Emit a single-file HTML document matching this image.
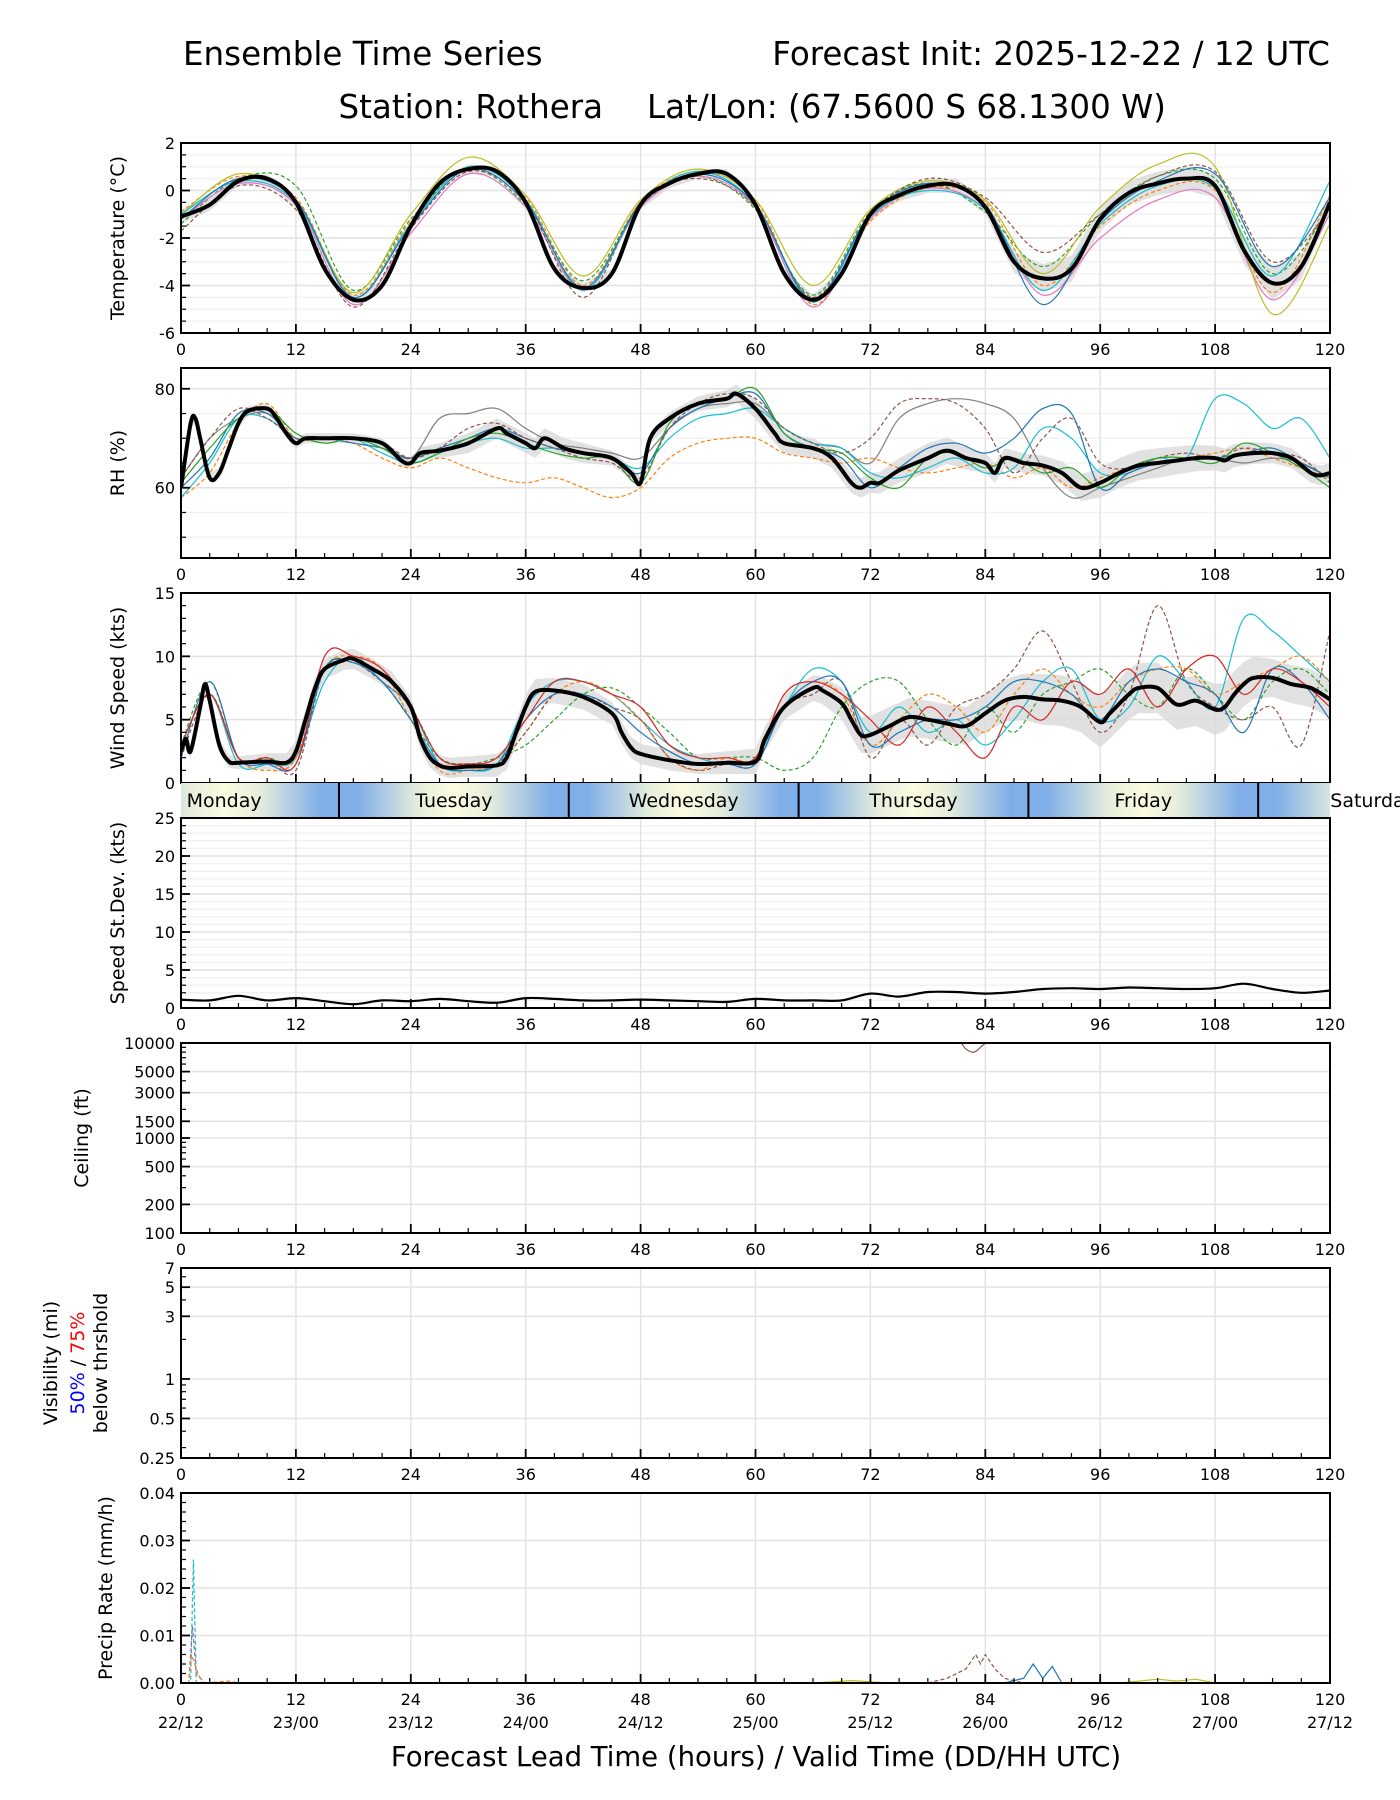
<!DOCTYPE html>
<html><head><meta charset="utf-8">
<style>
html,body{margin:0;padding:0;background:#fff;}
svg{display:block;font-family:"DejaVu Sans","Liberation Sans",sans-serif;}
</style></head>
<body>
<svg id="chart" width="1400" height="1800" viewBox="0 0 1400 1800" xmlns="http://www.w3.org/2000/svg">
<defs>
<linearGradient id="dayGrad" x1="0" x2="1" y1="0" y2="0">
<stop offset="0" stop-color="#80aee8"/><stop offset="0.08" stop-color="#80aee8"/>
<stop offset="0.35" stop-color="#e6eedc"/><stop offset="0.5" stop-color="#fbfbdf"/>
<stop offset="0.65" stop-color="#e6eedc"/><stop offset="0.92" stop-color="#80aee8"/><stop offset="1" stop-color="#80aee8"/>
</linearGradient>
<clipPath id="bandClip"><rect x="181" y="783" width="1219" height="35"/></clipPath>
</defs>
<text x="183" y="65" font-size="32.5">Ensemble Time Series</text>
<text x="1330" y="65" font-size="32.5" text-anchor="end">Forecast Init: 2025-12-22 / 12 UTC</text>
<text x="603" y="118" font-size="32.5" text-anchor="end">Station: Rothera</text>
<text x="647" y="118" font-size="32.5">Lat/Lon: (67.5600 S 68.1300 W)</text>
<text x="756" y="1766" font-size="27.5" text-anchor="middle">Forecast Lead Time (hours) / Valid Time (DD/HH UTC)</text>
<g id="plots"></g>
</svg>
<script>
// ---------- data ----------
const xTicks = [0,12,24,36,48,60,72,84,96,108,120];
const dateLabels = ["22/12","23/00","23/12","24/00","24/12","25/00","25/12","26/00","26/12","27/00","27/12"];
const dayNames = ["Monday","Tuesday","Wednesday","Thursday","Friday","Saturday"];
const dayBoundaries = [16.5,40.5,64.5,88.5,112.5];

// Temperature (every 3h)
const tempMean = [-1.1,-0.6,0.4,0.5,-0.5,-3.3,-4.6,-4.0,-1.5,0.3,0.9,0.8,-0.5,-3.3,-4.1,-3.5,-0.6,0.3,0.7,0.7,-0.6,-3.5,-4.6,-3.5,-1.0,-0.2,0.2,0.2,-0.7,-3.0,-3.7,-3.3,-1.2,-0.1,0.3,0.5,0.2,-2.5,-3.9,-3.2,-0.5];
// Temperature members (every 6h)
const tempA = [-0.9,0.6,-0.3,-4.4,-1.3,1.0,-0.3,-4.0,-0.5,0.8,-0.4,-4.8,-1.3,0.1,-0.5,-4.0,-1.5,0.0,0.0,-4.3,-0.2];
const tempB = [-1.4,0.5,0.2,-4.2,-1.2,0.9,-0.6,-3.8,-0.6,0.6,-0.8,-4.4,-0.9,0.3,-0.9,-3.2,-1.0,0.6,0.5,-3.5,-0.7];
const tempC = [-1.2,0.3,-0.6,-4.8,-1.8,0.7,-0.7,-4.2,-0.7,0.6,-0.7,-4.9,-1.2,0.1,-0.8,-4.4,-2.0,-0.4,-0.3,-4.6,-1.0];
const tempD = [-1.0,0.7,-0.4,-4.3,-1.0,1.4,-0.2,-3.6,-0.4,0.9,-0.4,-4.0,-0.8,0.4,-0.4,-3.5,-0.7,1.1,1.0,-5.2,-1.4];
const tempE = [-1.7,0.2,-0.8,-4.9,-1.6,0.8,-0.5,-4.5,-0.5,0.5,-0.7,-4.5,-1.0,0.5,-0.3,-2.6,-1.0,0.6,0.8,-3.0,-0.8];
const tempF = [-1.0,0.4,-0.5,-4.5,-1.4,1.0,-0.4,-4.2,-0.6,0.8,-0.6,-4.7,-1.1,0.0,-0.8,-4.2,-1.4,0.2,0.1,-3.6,0.4];
const tempG = [-1.2,0.5,-0.4,-4.5,-1.5,0.9,-0.5,-4.1,-0.6,0.7,-0.6,-4.6,-1.0,0.3,-0.6,-4.8,-1.3,0.4,0.7,-3.2,-0.3];
const tempSpread = [0.3,0.2,0.2,0.2,0.2,0.2,0.2,0.2,0.2,0.2,0.2,0.2,0.2,0.3,0.3,0.6,0.5,0.5,0.5,0.7,0.4];

// RH mean (hour, value)
const rhHours = [0,1,1.5,2,3,4,5,6,7,9,10,11,12,13,15,18,21,23,24,25,27,30,33,34,36,37,38,40,42,45,47,48,49,51,54,57,58,60,62,63,66,68,70,71,72,73,75,78,80,82,84,85,86,88,90,92,94,96,98,100,102,104,106,108,109,110,112,114,116,118,119,120];
const rhMean = [60,73,74,70,62,63,68,73,75.5,76,74,71,69,70,70,70,69,65.5,65,67,67.5,69,72,71,69,68,70,68,67,66,63,61,70,74,77,78,79,76,71,69,68,66,61,60,61,61,63.5,66,67.5,66,65,63,66,65,64.5,63,60,61,63,64.5,65,65.5,66,66,65.5,66.5,67,67,66,63,62.5,63];
// RH members (every 3h)
const rhA = [58,63,73,77,70,70,69,66,64,66,64,62,61,62,60,58,60,66,69,70,70,67,66,65,66,64,63,64,65,62,64,60,62,64,65,66,67,68,66,64,62];
const rhB = [62,70,74,75,70,70,70,69,66,74,75,76,72,69,68,67,66,72,76,77,77,72,69,68,65,74,77,78,77,74,64,58,60,62,64,66,66,65,66,65,62];
const rhC = [58,65,74,74,70,70,70,67,65,67,69,70,68,68,67,66,64,70,74,75,76,72,69,68,63,62,64,66,63,64,72,70,63,63,66,66,78,77,72,74,66];
const rhD = [60,66,75,75,70,70,69,68,66,68,70,72,70,68,67,66,63,72,76,78,79,71,68,66,60,64,68,69,67,70,76,75,60,63,65,66,66,67,68,65,62];
const rhE = [62,70,76,74,70,70,70,69,66,68,72,73,70,68,66,65,62,72,77,79,78,72,69,67,70,77,78,77,72,63,70,74,65,64,66,67,66,68,67,66,61];
const rhF = [61,68,74,76,71,69,70,68,65,67,70,71,69,67,66,66,61,73,77,78,80,71,68,67,62,60,66,67,64,66,63,64,60,64,66,66,65,69,67,64,60];
const rhSpread = [1,1,1,1,1,2,2,2,1,1.5,2,2,2,3,2,2,3,3,2.5,2,2];

// Wind speed mean (hour, value)
const windHours = [0,0.5,1,2,2.5,3,4,5,6,9,11,12,13,14,15,17,18,20,22,24,25,26,27,28,30,33,34,35,36,37,39,42,45,46,47,48,51,54,57,60,61,63,66,67,69,70,71,72,74,76,78,80,82,84,86,88,90,92,94,96,97,99,100,102,104,106,108,109,110,111,112,114,116,118,120];
const windMean = [2.5,3.5,2.5,6,7.8,6.5,3,1.7,1.6,1.7,1.6,2.5,5,7.5,9,9.7,9.8,9,8,6,3.5,2,1.4,1.2,1.3,1.4,2,4,6,7.2,7.3,6.8,5.5,4,2.8,2.3,1.8,1.5,1.6,1.7,3.5,6,7.5,7.3,6.3,5,3.8,3.8,4.5,5.2,5,4.7,4.5,5.5,6.5,6.8,6.6,6.5,6,4.8,5.5,7,7.5,7.5,6.2,6.5,5.8,6,7,7.8,8.3,8.3,7.8,7.5,6.6];
// Wind members (every 3h)
const windA = [3,8,2,2,2,9,9.5,8,5,2,1.5,2,3,5,7,7.5,6,4,2,2,2,1,2,6,8,8,5,3,6,4,7,8,9,7,6,9,7,5,8,9,7];
const windB = [3,7,1.5,1.5,2,8,10,8,6,1.5,1,1.5,6,8,8,7,5,3,2,1.5,2,6,9,8,4,6,4,5,3,5,8,9,5,6,10,8,6,13,12,10,8];
const windC = [3,7,2,1,2,9,10,9,5,1,1,1.5,4,7,8,7,5,2,1,2,2,7,8,7,3,5,7,6,4,7,9,7,6,8,9,9,7,8,9,10,8];
const windD = [2,7,2,2,1,9,9.5,8,6,2,1.5,1.5,4,7,7,6,5,2,1,1.5,1.5,6,7,8,2,5,3,6,7,9,12,8,4,7,14,8,6,5,6,3,12];
const windE = [2,8,2,1.5,1.5,9,9.5,8,5,1.5,1,1.5,5,7,7,6,4,2.5,1.5,1.5,1.5,6,8,8,3,4,5,5,6,8,8,7,5,8,9,8,7,4,9,8,5];
const windF = [3,7,2,2,1.5,10,10,9,6,2,1.5,2,5,8,8,7,6,3,2,2,2,7,8,7,5,3,6,4,2,6,5,8,7,9,6,9,10,7,9,8,6];
const windSpread = [0.5,0.5,0.8,0.8,0.8,0.8,1,1,0.8,0.8,1,1,1.5,1.5,1.5,2,2,2,2,1.5,1.5];

// Speed std dev (every 3h)
const sdValues = [1.1,1,1.6,1,1.3,0.9,0.5,1,0.9,1.2,0.9,0.7,1.3,1.2,1,1,1.1,1,0.9,0.8,1.2,1,1,1,1.9,1.5,2.1,2.1,1.9,2.1,2.5,2.6,2.5,2.7,2.6,2.5,2.6,3.2,2.5,2,2.3];

// Ceiling member (hour, ft)
const ceilHours = [81.5,82,82.8,83.5,84];
const ceilValues = [10000,8600,8000,9000,10000];

// Precip members (hour, mm/h)
const prA_h = [0,1,1.3,1.6,2,6]; const prA = [0,0,0.026,0,0,0];
const prB_h = [0,0.8,1.2,1.6,2.5,6]; const prB = [0,0,0.012,0.002,0,0];
const prC_h = [0,0.8,1.1,1.6,2.2,5,6]; const prC = [0,0,0.006,0.003,0,0.0004,0];
const prD_h = [78,80,82,83,83.5,84,85,86,88]; const prD = [0,0.001,0.003,0.006,0.004,0.006,0.003,0.001,0];
const prE_h = [86,88,89,90,91,92,94]; const prE = [0,0.001,0.004,0.001,0.0035,0,0];
const prF_h = [66,70,74,98,102,104,106,108]; const prF = [0,0.0005,0,0,0.0008,0.0004,0.0008,0];

// ---------- drawing ----------
const NS = "http://www.w3.org/2000/svg";
const plots = document.getElementById("plots");
const L = 181, R = 1330, PH = 190;
const tops = [143,368,593,818,1043,1268,1493];
const xScale = h => L + (h/120)*(R-L);
function mk(tag, attrs, parent){
  const e = document.createElementNS(NS, tag);
  for (const k in attrs) e.setAttribute(k, attrs[k]);
  (parent||plots).appendChild(e);
  return e;
}
function smoothPath(pts){
  if (!pts.length) return "";
  let d = "M" + pts[0][0].toFixed(1) + "," + pts[0][1].toFixed(1);
  for (let i=0;i<pts.length-1;i++){
    const p0 = pts[Math.max(0,i-1)], p1 = pts[i], p2 = pts[i+1], p3 = pts[Math.min(pts.length-1,i+2)];
    const c1x = p1[0]+(p2[0]-p0[0])/6, c1y = p1[1]+(p2[1]-p0[1])/6;
    const c2x = p2[0]-(p3[0]-p1[0])/6, c2y = p2[1]-(p3[1]-p1[1])/6;
    d += "C"+c1x.toFixed(1)+","+c1y.toFixed(1)+" "+c2x.toFixed(1)+","+c2y.toFixed(1)+" "+p2[0].toFixed(1)+","+p2[1].toFixed(1);
  }
  return d;
}
function stepHours(n, step){ const a=[]; for(let i=0;i<n;i++) a.push(i*step); return a; }

function makePanel(idx, cfg){
  const top = tops[idx], bot = top + PH;
  const yScale = v => {
    const f = cfg.log ? (Math.log10(v)-Math.log10(cfg.min))/(Math.log10(cfg.max)-Math.log10(cfg.min)) : (v-cfg.min)/(cfg.max-cfg.min);
    return bot - f*PH;
  };
  const g = mk("g", {});
  
  
  const cp = mk("clipPath", {id:"clip"+idx}, g);
  mk("rect", {x:L, y:top, width:R-L, height:PH}, cp);
  (cfg.minorGrid||[]).forEach(v=>{
    const ln = mk("line",{x1:L,x2:R,y1:yScale(v),y2:yScale(v),stroke:"#f2f2f2","stroke-width":1.5},g);
    
    
  });
  xTicks.forEach(h=>{
    const ln = mk("line",{x1:xScale(h),x2:xScale(h),y1:top,y2:bot,stroke:"#e3e3e3","stroke-width":1.5},g);
    
    
  });
  cfg.ticks.forEach(v=>{
    const ln = mk("line",{x1:L,x2:R,y1:yScale(v),y2:yScale(v),stroke:"#e3e3e3","stroke-width":1.5},g);
    
    
  });
  const content = mk("g",{"clip-path":"url(#clip"+idx+")"},g);
  
  
  for (let h=0; h<=120; h+=3){
    const major = h%12===0;
    const ln = mk("line",{x1:xScale(h),x2:xScale(h),y1:bot,y2:bot-(major?9:5),stroke:"#000","stroke-width":major?1.8:1.2},g);
    
    
  }
  if (!cfg.noXLabels) xTicks.forEach((h,i)=>{
    const t = mk("text",{x:xScale(h),y:bot+22,"font-size":16,"text-anchor":"middle"},g);
    t.textContent = h;
    
    
    if (cfg.dates){
      const d = mk("text",{x:xScale(h),y:bot+45,"font-size":16,"text-anchor":"middle"},g);
      d.textContent = dateLabels[i];
      
      
    }
  });
  (cfg.minorTicks||[]).forEach(v=>{
    const ln = mk("line",{x1:L,x2:L+5,y1:yScale(v),y2:yScale(v),stroke:"#000","stroke-width":1.2},g);
    
    
  });
  cfg.ticks.forEach((v,i)=>{
    const ln = mk("line",{x1:L,x2:L+9,y1:yScale(v),y2:yScale(v),stroke:"#000","stroke-width":1.8},g);
    
    
    const t = mk("text",{x:L-6,y:yScale(v)+6,"font-size":16,"text-anchor":"end"},g);
    t.textContent = cfg.tickLabels ? cfg.tickLabels[i] : v;
    
    
  });
  const fr = mk("rect",{x:L,y:top,width:R-L,height:PH,fill:"none",stroke:"#000","stroke-width":2},g);
  
  
  if (cfg.label){
    const cy = top + PH/2;
    const t = mk("text",{x:0,y:0,"font-size":19,"text-anchor":"middle",transform:"translate("+cfg.labelX+","+cy+") rotate(-90)"},g);
    t.textContent = cfg.label;
    
    
  }
  return {content, yScale};
}
function line(p, hours, vals, color, opts, name){
  const pts = vals.map((v,i)=>[xScale(hours[i]), p.yScale(v)]);
  const a = {d: opts.straight ? "M"+pts.map(q=>q[0].toFixed(1)+","+q[1].toFixed(1)).join("L") : smoothPath(pts), fill:"none", stroke:color, "stroke-width":opts.w||1.2};
  if (opts.dash) a["stroke-dasharray"] = "4,2.5";
  const e = mk("path", a, p.content);
  
  
}
function band(p, hours, mean, spreadHours, spread, name){
  const sAt = h => { for(let i=0;i<spreadHours.length-1;i++){ if(h<=spreadHours[i+1]){ const f=(h-spreadHours[i])/(spreadHours[i+1]-spreadHours[i]); return spread[i]+f*(spread[i+1]-spread[i]); } } return spread[spread.length-1]; };
  const up = hours.map((h,i)=>[xScale(h), p.yScale(mean[i]+sAt(h))]);
  const lo = hours.map((h,i)=>[xScale(h), p.yScale(mean[i]-sAt(h))]).reverse();
  const d = "M"+up.concat(lo).map(q=>q[0].toFixed(1)+","+q[1].toFixed(1)).join("L")+"Z";
  const e = mk("path",{d, fill:"#d9d9d9", opacity:0.8}, p.content);
  
  
}
const range = (a,b,s)=>{const r=[];for(let v=a;v<=b+1e-9;v+=s)r.push(+v.toFixed(3));return r;};

// Panel 1: Temperature
const p1 = makePanel(0,{name:"temperature",min:-6,max:2,ticks:[-6,-4,-2,0,2],minorTicks:range(-6,2,0.5),minorGrid:range(-6,2,0.5),label:"Temperature (°C)",labelX:124});
const h6 = stepHours(21,6), h3 = stepHours(41,3);
band(p1, h3, tempMean, h6, tempSpread, "temperature-spread-band");
line(p1,h6,tempA,"#ff7f0e",{dash:1},"temperature-member-a");
line(p1,h6,tempB,"#2ca02c",{dash:1},"temperature-member-b");
line(p1,h6,tempC,"#e377c2",{},"temperature-member-c");
line(p1,h6,tempD,"#bcbd22",{},"temperature-member-d");
line(p1,h6,tempE,"#8c564b",{dash:1},"temperature-member-e");
line(p1,h6,tempF,"#17becf",{},"temperature-member-f");
line(p1,h6,tempG,"#1f77b4",{},"temperature-member-g");
line(p1,h3,tempMean,"#000",{w:4},"temperature-mean");

// Panel 2: RH
const p2 = makePanel(1,{name:"rh",min:45.8,max:84.2,ticks:[60,80],minorTicks:range(50,80,5),minorGrid:[50,55,65,70,75],label:"RH (%)",labelX:124});
band(p2, rhHours, rhMean, h6, rhSpread, "rh-spread-band");
line(p2,h3,rhA,"#ff7f0e",{dash:1},"rh-member-a");
line(p2,h3,rhB,"#7f7f7f",{},"rh-member-b");
line(p2,h3,rhC,"#17becf",{},"rh-member-c");
line(p2,h3,rhD,"#1f77b4",{},"rh-member-d");
line(p2,h3,rhE,"#8c564b",{dash:1},"rh-member-e");
line(p2,h3,rhF,"#2ca02c",{},"rh-member-f");
line(p2,rhHours,rhMean,"#000",{w:4},"rh-mean");

// Panel 3: Wind
const p3 = makePanel(2,{name:"wind",min:0,max:15,ticks:[0,5,10,15],minorTicks:range(0,15,1),label:"Wind Speed (kts)",labelX:124,noXLabels:true});
band(p3, windHours, windMean, h6, windSpread, "wind-spread-band");
line(p3,h3,windA,"#2ca02c",{dash:1},"wind-member-a");
line(p3,h3,windB,"#17becf",{},"wind-member-b");
line(p3,h3,windC,"#ff7f0e",{dash:1},"wind-member-c");
line(p3,h3,windD,"#8c564b",{dash:1},"wind-member-d");
line(p3,h3,windE,"#1f77b4",{},"wind-member-e");
line(p3,h3,windF,"#d62728",{},"wind-member-f");
line(p3,windHours,windMean,"#000",{w:4},"wind-mean");

// Day band
const dayG = mk("g",{"clip-path":"url(#bandClip)"});


const starts = [-7.5].concat(dayBoundaries);
starts.forEach((s,i)=>{
  const x0 = xScale(s), x1 = xScale(s+24);
  const r = mk("rect",{x:x0,y:783,width:x1-x0,height:35,fill:"url(#dayGrad)"},dayG);
  
  
  const t = mk("text",{x:xScale(s+12),y:807,"font-size":19,"text-anchor":"middle"},dayG);
  t.textContent = dayNames[i];
  
  
});
mk("rect",{x:1330,y:783,width:70,height:35,fill:"#fff"},dayG);
const satT = mk("text",{x:xScale(124.5),y:807,"font-size":19,"text-anchor":"middle"},dayG);
satT.textContent = "Saturday";


dayBoundaries.forEach(b=>{
  const ln = mk("line",{x1:xScale(b),x2:xScale(b),y1:783,y2:818,stroke:"#000","stroke-width":2},dayG);
  
  
});

// Panel 4: Std dev
const p4 = makePanel(3,{name:"speed-stdev",min:0,max:25,ticks:[0,5,10,15,20,25],minorTicks:range(0,25,1),minorGrid:range(0,25,1),label:"Speed St.Dev. (kts)",labelX:124});
line(p4,h3,sdValues,"#000",{w:2.2},"speed-stdev-line");

// Panel 5: Ceiling (log)
const p5 = makePanel(4,{name:"ceiling",min:100,max:10000,log:true,ticks:[100,200,500,1000,1500,3000,5000,10000],minorTicks:[300,400,600,700,800,900,2000,4000,6000,7000,8000,9000],label:"Ceiling (ft)",labelX:88});
line(p5,ceilHours,ceilValues,"#8c564b",{},"ceiling-member");

// Panel 6: Visibility (log)
const p6 = makePanel(5,{name:"visibility",min:0.25,max:7,log:true,ticks:[0.25,0.5,1,3,5,7],minorTicks:[0.3,0.4,0.6,0.7,0.8,0.9,2,4,6],label:null});
const vg = mk("g",{});


const vcy = tops[5]+PH/2;
const v1 = mk("text",{x:0,y:0,"font-size":19,"text-anchor":"middle",transform:"translate(57,"+vcy+") rotate(-90)"},vg);
v1.textContent = "Visibility (mi)";


const v2 = mk("text",{x:0,y:0,"font-size":19,"text-anchor":"middle",transform:"translate(84,"+vcy+") rotate(-90)"},vg);
v2.innerHTML = '<tspan fill="#0000ff">50%</tspan> / <tspan fill="#ff0000">75%</tspan>';


const v3 = mk("text",{x:0,y:0,"font-size":19,"text-anchor":"middle",transform:"translate(107,"+vcy+") rotate(-90)"},vg);
v3.textContent = "below thrshold";



// Panel 7: Precip
const p7 = makePanel(6,{name:"precip",min:0,max:0.04,ticks:[0,0.01,0.02,0.03,0.04],tickLabels:["0.00","0.01","0.02","0.03","0.04"],minorTicks:range(0,0.04,0.002),label:"Precip Rate (mm/h)",labelX:112,dates:true});
line(p7,prA_h,prA,"#17becf",{dash:1,straight:1},"precip-member-a");
line(p7,prB_h,prB,"#9467bd",{dash:1,straight:1},"precip-member-b");
line(p7,prC_h,prC,"#ff7f0e",{dash:1,straight:1},"precip-member-c");
line(p7,prD_h,prD,"#8c564b",{dash:1,straight:1},"precip-member-d");
line(p7,prE_h,prE,"#1f77b4",{straight:1},"precip-member-e");
line(p7,prF_h,prF,"#bcbd22",{straight:1},"precip-member-f");
</script>
</body></html>
